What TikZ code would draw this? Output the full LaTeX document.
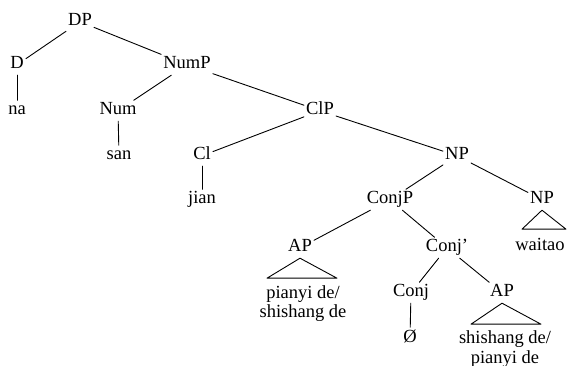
\documentclass[tikz,border=0pt]{standalone}
\usepackage{fontspec}
\setmainfont{Liberation Serif}
\begin{document}
\begin{tikzpicture}[x=1pt,y=-1pt,
  lbl/.style={font=\fontsize{18.5}{21}\selectfont, inner sep=2pt, text height=12.5pt, text depth=4pt, anchor=base},
  leaf/.style={font=\fontsize{18.5}{20}\selectfont, inner sep=2pt, anchor=base, align=center},
  br/.style={line width=0.9pt, line cap=round}]
\useasboundingbox (0,0) rectangle (568,366);
% row 1
\node[lbl] (DP) at (80,26) {DP};
% row 2
\node[lbl] (D) at (17,69) {D};
\node[lbl] (NumP) at (187,69) {NumP};
% row 3
\node[lbl] (na) at (17,115) {na};
\node[lbl] (Num) at (118,115) {Num};
\node[lbl] (ClP) at (320,115) {ClP};
% row 4
\node[lbl] (san) at (119,160) {san};
\node[lbl] (Cl) at (202,160) {Cl};
\node[lbl] (NP) at (457,160) {NP};
% row 5
\node[lbl] (jian) at (202,204) {jian};
\node[lbl] (ConjP) at (390,204) {ConjP};
\node[lbl] (NPb) at (542,204) {NP};
\node[leaf] (waitao) at (540,251) {waitao};
% row 6
\node[lbl] (APa) at (300,252) {AP};
\node[lbl] (Conjbar) at (447,252) {Conj'};
\node[leaf] (pianyi) at (303,318) {pianyi de/\\shishang de};
% row 7
\node[lbl] (Conj) at (411,297) {Conj};
\node[lbl] (APb) at (502,297) {AP};
\node[lbl] (empty) at (410,342) {Ø};
\node[leaf] (shishang) at (505,363) {shishang de/\\pianyi de};
% branches
\draw[br] (DP) -- (D);
\draw[br] (DP) -- (NumP);
\draw[br] (D) -- (na);
\draw[br] (NumP) -- (Num);
\draw[br] (NumP) -- (ClP);
\draw[br] (Num) -- (san);
\draw[br] (ClP) -- (Cl);
\draw[br] (ClP) -- (NP);
\draw[br] (Cl) -- (jian);
\draw[br] (NP) -- (ConjP);
\draw[br] (NP) -- (NPb);
\draw[br] (ConjP) -- (APa);
\draw[br] (ConjP) -- (Conjbar);
\draw[br] (Conjbar) -- (Conj);
\draw[br] (Conjbar) -- (APb);
\draw[br] (Conj) -- (empty);
% triangles
\draw[br, line join=round] (NPb.south) -- ++(-20,19) -- ++(44,0) -- cycle;
\draw[br, line join=round] (APa.south) -- ++(-33,20) -- ++(70,0) -- cycle;
\draw[br, line join=round] (APb.south) -- ++(-31,21) -- ++(70,0) -- cycle;
\end{tikzpicture}
\end{document}
